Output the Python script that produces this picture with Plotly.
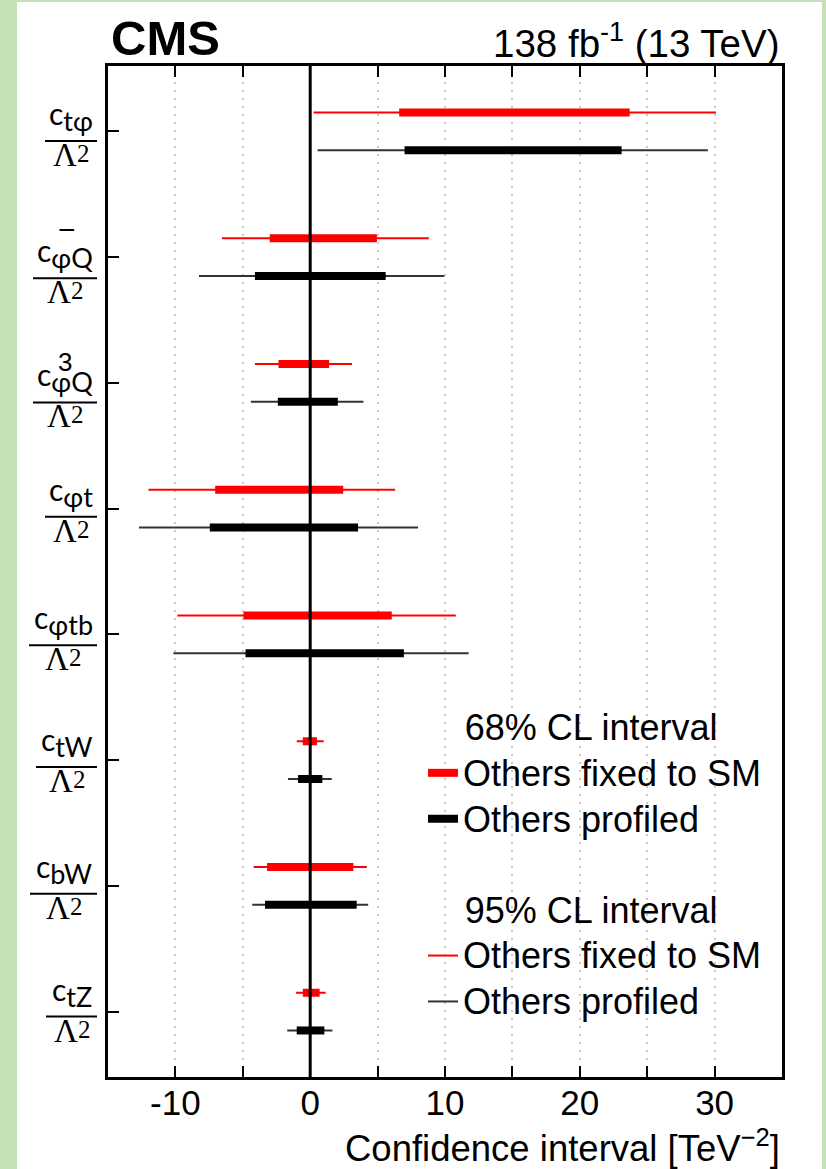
import plotly.graph_objects as go

# ---------------- data ----------------
coefficients = ["c_tphi", "c_phiQ-", "c_phiQ3", "c_phit", "c_phitb", "c_tW", "c_bW", "c_tZ"]
num_main = "c"
num_sub = ["tφ", "φQ", "φQ", "φt", "φtb", "tW", "bW", "tZ"]
num_sup = ["", "−", "3", "", "", "", "", ""]
den_main = "Λ"
den_pow = "2"

fixed68_lo = [6.6, -3.0, -2.35, -7.05, -4.95, -0.55, -3.2, -0.55]
fixed68_hi = [23.7, 4.95, 1.4, 2.45, 6.05, 0.5, 3.2, 0.7]
prof68_lo = [7.0, -4.1, -2.4, -7.45, -4.8, -0.9, -3.35, -1.0]
prof68_hi = [23.1, 5.6, 2.05, 3.55, 6.95, 0.9, 3.45, 1.05]
fixed95_lo = [0.25, -6.55, -4.1, -12.0, -9.85, -1.0, -4.2, -1.05]
fixed95_hi = [30.1, 8.8, 3.1, 6.3, 10.8, 1.0, 4.2, 1.15]
prof95_lo = [0.55, -8.25, -4.4, -12.7, -10.15, -1.65, -4.3, -1.7]
prof95_hi = [29.5, 9.95, 3.95, 8.0, 11.75, 1.6, 4.3, 1.65]

x_major = [-10, 0, 10, 20, 30]
x_major_text = ["-10", "0", "10", "20", "30"]

# ---------------- layout geometry ----------------
W, H = 826, 1169
L, R, T, B = 108, 44, 66, 92
PW = W - L - R
PH = H - T - B


def xp(px):
    return (px - L) / PW


def yp(py):
    return (H - B - py) / PH


n = len(coefficients)
row_pos = [n - 1 - i for i in range(n)]
OFF = 0.15

FONT = "Liberation Sans"
LEG_PX = 36
NBSP = "\u00a0"


def big(txt, px, extra=""):
    return f"<span style='font-size:{px}px{extra}'>{txt}</span>"


def segs(lo, hi, dy):
    xs, ys = [], []
    for a, b, r in zip(lo, hi, row_pos):
        xs += [a, b, None]
        ys += [r + dy, r + dy, None]
    return xs, ys


fig = go.Figure()

series = [
    dict(lo=fixed95_lo, hi=fixed95_hi, dy=OFF, color="#ff0000", w=2,
         name="Others fixed to SM", grp="95", title="95% CL interval", rank=3),
    dict(lo=prof95_lo, hi=prof95_hi, dy=-OFF, color="#333333", w=2,
         name="Others profiled", grp="95", title=None, rank=4),
    dict(lo=fixed68_lo, hi=fixed68_hi, dy=OFF, color="#ff0000", w=8,
         name="Others fixed to SM", grp="68", title="68% CL interval", rank=1),
    dict(lo=prof68_lo, hi=prof68_hi, dy=-OFF, color="#000000", w=8,
         name="Others profiled", grp="68", title=None, rank=2),
]
for s in series:
    xs, ys = segs(s["lo"], s["hi"], s["dy"])
    kw = {}
    if s["title"]:
        kw["legendgrouptitle"] = dict(text=NBSP * 4 + big(s["title"], LEG_PX),
                                      font=dict(family=FONT, size=33, color="black"))
    fig.add_trace(go.Scatter(
        x=xs, y=ys, mode="lines", name=big(s["name"], LEG_PX),
        line=dict(color=s["color"], width=s["w"]),
        legendgroup=s["grp"], legendrank=s["rank"], hoverinfo="skip", **kw))

# ---------------- fraction labels on the y axis ----------------
frac_left = [45, 33, 33, 45, 29, 36, 30, 46]
frac_right = 97
frac_drop = [9.7, 21, 19.6, 8, 11, 7, 8, 5]
sup_x = [0, 66.5, 65, 0, 0, 0, 0, 0]
sup_lift = [0, 30, 23, 0, 0, 0, 0, 0]
sup_size = [0, 30, 26, 0, 0, 0, 0, 0]

shapes = []
annotations = []
for i in range(n):
    r = row_pos[i]
    left = frac_left[i]
    drop = frac_drop[i]
    cx = (left + frac_right) / 2
    shapes.append(dict(type="line", xref="paper", yref="y",
                       x0=xp(left), x1=xp(frac_right),
                       ysizemode="pixel", yanchor=r, y0=-drop, y1=-drop,
                       line=dict(color="black", width=2)))
    annotations.append(dict(text=num_main + "<sub>" + big(num_sub[i], 27) + "</sub>",
                            x=xp(cx), y=r, xref="paper", yref="y",
                            xanchor="center", yanchor="bottom", yshift=-drop + 2,
                            showarrow=False, font=dict(family="Lato", size=30, color="black")))
    annotations.append(dict(text=den_main + big(den_pow, 25, ";baseline-shift:4px"),
                            x=xp(cx), y=r, xref="paper", yref="y",
                            xanchor="center", yanchor="top", yshift=-drop + 6,
                            showarrow=False, font=dict(family="Liberation Serif", size=33, color="black")))
    if num_sup[i]:
        annotations.append(dict(text=num_sup[i], x=xp(sup_x[i]), y=r, xref="paper", yref="y",
                                xanchor="center", yanchor="bottom", yshift=-drop + sup_lift[i],
                                showarrow=False,
                                font=dict(family="Liberation Sans", size=sup_size[i], color="black")))

# zero line on top of the intervals
shapes.append(dict(type="line", xref="x", yref="paper", x0=0, x1=0, y0=0, y1=1,
                   line=dict(color="black", width=3), layer="above"))
# white page over the green border
shapes.append(dict(type="rect", xref="paper", yref="paper",
                   x0=xp(17), x1=xp(822), y0=yp(1175), y1=yp(2),
                   fillcolor="white", line=dict(width=0), layer="below"))

annotations += [
    dict(text="<b>CMS</b>", x=xp(109), y=yp(38), xref="paper", yref="paper",
         xanchor="left", yanchor="middle", showarrow=False,
         font=dict(family=FONT, size=49, color="black")),
    dict(text="138 fb<sup>-1</sup> (13 TeV)", x=xp(782), y=yp(41), xref="paper", yref="paper",
         xanchor="right", yanchor="middle", showarrow=False,
         font=dict(family=FONT, size=38.5, color="black")),
    dict(text="Confidence interval [TeV<sup>−2</sup>]", x=xp(782), y=yp(1146),
         xref="paper", yref="paper", xanchor="right", yanchor="middle", showarrow=False,
         font=dict(family=FONT, size=36.5, color="black")),
]

GRID = dict(gridcolor="#c8c8c8", griddash="2px,6px", gridwidth=2)

fig.update_layout(
    width=W, height=H,
    margin=dict(l=L, r=R, t=T, b=B, pad=0),
    paper_bgcolor="#c5e0b4",
    plot_bgcolor="white",
    shapes=shapes,
    annotations=annotations,
    showlegend=True,
    legend=dict(x=xp(423), y=yp(699), xanchor="left", yanchor="top",
                bgcolor="rgba(0,0,0,0)", borderwidth=0,
                font=dict(family=FONT, size=33, color="black"),
                traceorder="grouped", tracegroupgap=45),
    xaxis=dict(range=[-15, 35], tickmode="array", tickvals=x_major, ticktext=x_major_text,
               ticks="inside", ticklen=11, tickwidth=2, tickcolor="black",
               showline=True, linecolor="black", linewidth=3, mirror="ticks",
               showgrid=True, zeroline=False, ticklabelstandoff=-7,
               minor=dict(dtick=5, tick0=0, ticks="inside", ticklen=11, tickwidth=2,
                          tickcolor="black", showgrid=True, **GRID),
               tickfont=dict(family=FONT, size=35, color="black"), fixedrange=True, **GRID),
    yaxis=dict(range=[-0.52, n - 1 + 0.52], tickmode="array", tickvals=row_pos,
               showticklabels=False, ticks="inside", ticklen=11, tickwidth=2,
               tickcolor="black", showline=True, linecolor="black", linewidth=3,
               mirror=True, showgrid=False, zeroline=False, fixedrange=True),
)

fig.write_html("out.html", config={"displayModeBar": False},
               post_script="document.body.style.margin='0';document.body.style.overflow='hidden';")
